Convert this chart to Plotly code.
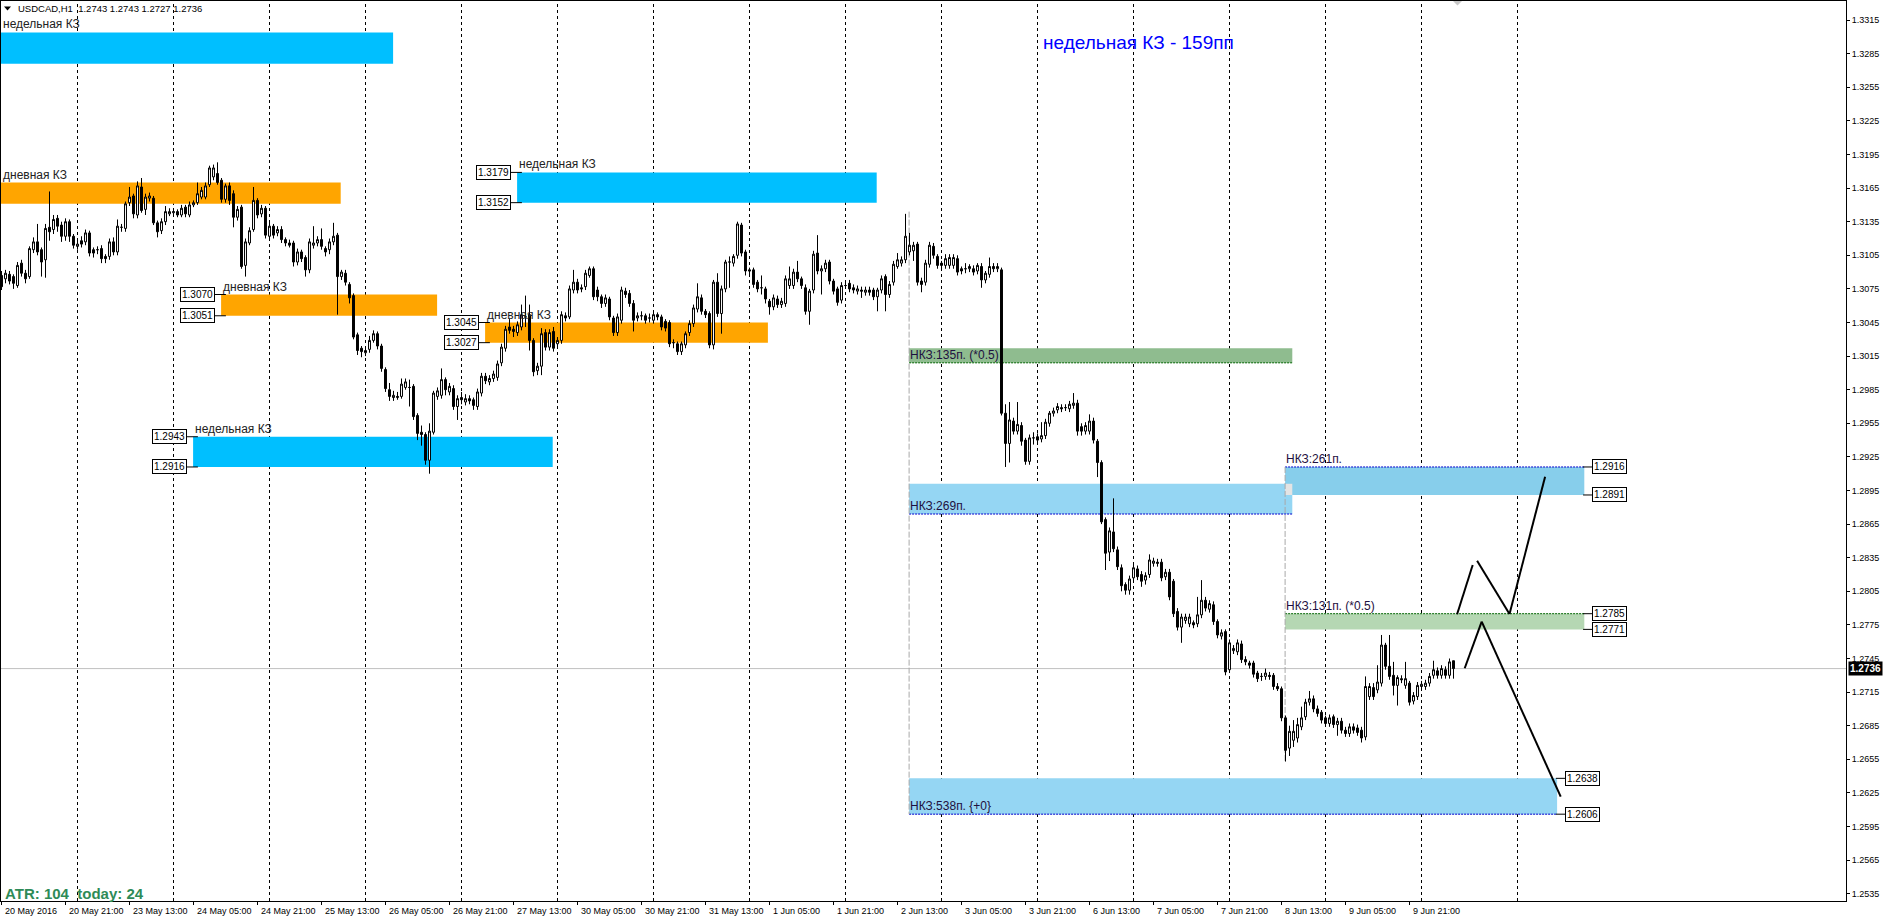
import plotly.graph_objects as go

# ---------------- data (prices in points of 0.0001) ----------------
header_text = "USDCAD,H1  1.2743 1.2743 1.2727 1.2736"

open_pts = [
    13087,13084,13088,13086,13078,13098,13089,13086,13110,13117,
    13110,13101,13130,13128,13138,13132,13122,13135,13122,13113,
    13118,13117,13125,13110,13110,13111,13104,13104,13117,13108,
    13130,13129,13152,13158,13141,13166,13146,13156,13156,13134,
    13127,13135,13142,13143,13144,13141,13148,13141,13150,13152,
    13157,13157,13168,13175,13178,13172,13155,13167,13160,13139,
    13148,13096,13116,13128,13154,13142,13147,13122,13131,13125,
    13128,13119,13116,13116,13099,13108,13103,13092,13114,13116,
    13119,13111,13110,13117,13123,13086,13089,13079,13069,13034,
    13022,13018,13021,13029,13035,13024,13003,12985,12978,12978,
    12979,12987,12987,12988,12962,12947,12945,12922,12947,12979,
    12980,12994,12983,12986,12970,12978,12974,12977,12976,12970,
    12982,12997,12992,12995,12996,13009,13022,13041,13039,13036,
    13041,13050,13052,13029,13002,13006,13036,13023,13037,13026,
    13029,13051,13050,13074,13081,13076,13077,13087,13093,13074,
    13068,13062,13066,13049,13036,13047,13073,13071,13062,13049,
    13051,13051,13049,13047,13052,13050,13046,13045,13027,13026,
    13019,13025,13036,13044,13057,13067,13055,13053,13025,13081,
    13053,13075,13099,13098,13105,13132,13108,13092,13092,13081,
    13076,13075,13064,13059,13066,13061,13062,13078,13078,13090,
    13084,13076,13055,13074,13107,13091,13093,13099,13082,13075,
    13065,13078,13080,13076,13073,13074,13072,13074,13074,13068,
    13074,13086,13070,13081,13095,13098,13101,13108,13109,13115,
    13082,13081,13097,13113,13104,13098,13096,13096,13096,13102,
    13093,13093,13093,13093,13091,13095,13083,13088,13095,13093,
    13092,12964,12937,12957,12948,12953,12940,12921,12942,12943,
    12941,12944,12955,12964,12967,12969,12969,12968,12971,12973,
    12952,12948,12948,12957,12939,12920,12869,12840,12858,12842,
    12826,12811,12806,12817,12825,12820,12815,12820,12830,12831,
    12831,12818,12822,12814,12787,12773,12779,12776,12777,12776,
    12784,12797,12789,12793,12778,12765,12769,12735,12752,12751,
    12758,12744,12741,12741,12732,12729,12729,12730,12730,12720,
    12718,12692,12665,12672,12674,12684,12693,12706,12709,12700,
    12697,12692,12687,12693,12686,12689,12681,12678,12684,12683,
    12681,12675,12711,12719,12717,12723,12757,12738,12730,12721,
    12727,12721,12723,12707,12711,12720,12720,12723,12730,12734,
    12730,12735,12730,12743,
]
high_pts = [
    13091,13092,13091,13088,13099,13101,13092,13113,13121,13133,
    13112,13133,13162,13141,13141,13135,13138,13137,13124,13120,
    13122,13128,13127,13112,13113,13114,13106,13120,13121,13137,
    13133,13153,13166,13160,13171,13174,13160,13161,13158,13136,
    13138,13149,13147,13146,13146,13150,13150,13153,13154,13170,
    13166,13170,13185,13186,13188,13174,13169,13170,13163,13149,
    13150,13120,13130,13166,13156,13150,13149,13134,13133,13131,
    13131,13121,13119,13118,13111,13110,13105,13120,13131,13122,
    13129,13113,13120,13134,13125,13092,13092,13081,13071,13036,
    13024,13023,13033,13038,13037,13026,13005,12991,12984,12983,
    12995,12995,12994,12990,12964,12953,12947,12955,12984,12987,
    13004,12996,12991,12989,12980,12983,12981,12980,12978,12986,
    13000,13000,12998,13002,13011,13026,13042,13048,13042,13046,
    13061,13069,13061,13031,13009,13040,13039,13039,13041,13032,
    13055,13054,13078,13092,13084,13079,13092,13095,13095,13077,
    13070,13070,13068,13051,13053,13077,13076,13074,13065,13054,
    13055,13053,13053,13055,13054,13052,13048,13047,13030,13028,
    13028,13037,13047,13061,13080,13070,13057,13055,13083,13089,
    13078,13101,13104,13106,13135,13134,13110,13094,13094,13083,
    13087,13077,13066,13070,13069,13067,13087,13095,13093,13100,
    13086,13079,13075,13109,13123,13096,13101,13101,13084,13077,
    13081,13082,13083,13079,13078,13077,13077,13077,13076,13076,
    13087,13088,13082,13100,13107,13104,13142,13125,13117,13117,
    13085,13101,13117,13116,13106,13100,13106,13106,13106,13105,
    13095,13098,13097,13096,13098,13098,13091,13103,13098,13098,
    13094,12972,12974,12960,12974,12956,12942,12945,12947,12946,
    12956,12959,12966,12969,12973,12972,12972,12975,12982,12976,
    12955,12956,12963,12960,12941,12922,12871,12862,12888,12845,
    12829,12813,12819,12829,12828,12823,12822,12838,12835,12834,
    12834,12825,12825,12816,12790,12785,12785,12785,12779,12800,
    12815,12800,12797,12796,12780,12771,12771,12762,12757,12762,
    12761,12747,12743,12743,12734,12732,12736,12733,12732,12723,
    12720,12694,12685,12690,12692,12702,12709,12716,12712,12703,
    12699,12694,12695,12695,12692,12692,12684,12687,12687,12686,
    12684,12729,12723,12723,12739,12766,12759,12766,12742,12730,
    12730,12742,12725,12715,12724,12725,12726,12732,12743,12737,
    12739,12738,12745,12743,
]
low_pts = [
    13074,13080,13079,13075,13076,13086,13080,13084,13107,13105,
    13086,13085,13118,13124,13126,13117,13118,13117,13111,13110,
    13112,13114,13104,13103,13106,13098,13098,13101,13105,13105,
    13126,13126,13149,13138,13138,13143,13141,13153,13132,13121,
    13124,13132,13140,13140,13139,13139,13139,13139,13148,13150,
    13155,13155,13166,13172,13168,13152,13152,13150,13130,13136,
    13093,13086,13114,13126,13138,13139,13120,13119,13120,13122,
    13116,13113,13112,13095,13096,13099,13086,13089,13111,13113,
    13110,13104,13106,13114,13052,13083,13078,13062,13030,13016,
    13014,13015,13018,13027,13021,13001,12983,12975,12975,12976,
    12977,12985,12970,12958,12940,12935,12918,12910,12945,12976,
    12977,12980,12980,12967,12958,12972,12971,12972,12967,12967,
    12979,12990,12989,12992,12993,13006,13019,13035,13032,13033,
    13038,13041,13020,12997,12998,12998,13020,13020,13019,13024,
    13026,13046,13048,13071,13071,13072,13074,13085,13065,13064,
    13058,13059,13047,13033,13033,13044,13067,13059,13037,13046,
    13047,13044,13045,13044,13047,13038,13037,13023,13022,13016,
    13016,13022,13033,13041,13054,13052,13049,13022,13021,13050,
    13035,13072,13076,13095,13102,13104,13087,13088,13076,13072,
    13070,13062,13052,13056,13058,13058,13059,13075,13075,13081,
    13075,13052,13043,13071,13088,13070,13090,13079,13070,13060,
    13062,13075,13072,13071,13070,13067,13069,13069,13065,13055,
    13071,13055,13067,13078,13093,13095,13098,13105,13100,13078,
    13072,13078,13094,13102,13093,13093,13093,13093,13093,13087,
    13088,13089,13090,13087,13088,13076,13080,13085,13090,13090,
    12962,12916,12920,12945,12945,12935,12918,12918,12936,12937,
    12938,12941,12952,12961,12964,12965,12966,12965,12968,12944,
    12944,12945,12945,12937,12907,12865,12824,12832,12840,12824,
    12805,12802,12802,12814,12815,12809,12811,12817,12827,12827,
    12814,12815,12797,12782,12770,12759,12776,12773,12772,12773,
    12781,12787,12786,12775,12763,12762,12730,12732,12749,12748,
    12741,12739,12736,12728,12724,12725,12726,12726,12717,12716,
    12689,12653,12658,12666,12670,12681,12690,12703,12697,12693,
    12687,12684,12684,12683,12676,12678,12675,12675,12678,12676,
    12670,12672,12708,12708,12714,12720,12735,12726,12712,12703,
    12723,12718,12703,12704,12708,12717,12717,12720,12727,12727,
    12727,12727,12727,12727,
]
close_pts = [
    13077,13089,13082,13080,13096,13089,13084,13111,13117,13108,
    13099,13129,13126,13137,13131,13122,13135,13122,13114,13115,
    13115,13125,13107,13107,13110,13102,13102,13117,13108,13131,
    13130,13151,13157,13142,13167,13145,13157,13158,13134,13126,
    13135,13144,13144,13144,13141,13147,13142,13150,13152,13160,
    13163,13167,13183,13183,13170,13155,13167,13154,13139,13146,
    13095,13117,13127,13154,13141,13147,13123,13131,13123,13128,
    13119,13116,13114,13099,13108,13102,13092,13117,13116,13119,
    13113,13108,13117,13122,13086,13090,13081,13067,13032,13020,
    13019,13020,13029,13035,13024,13004,12986,12979,12980,12979,
    12990,12992,12987,12961,12946,12945,12922,12948,12982,12984,
    12994,12985,12988,12970,12977,12976,12977,12975,12971,12983,
    12997,12993,12995,12999,13008,13023,13039,13038,13037,13043,
    13052,13050,13029,13001,13006,13035,13023,13036,13022,13029,
    13052,13049,13075,13081,13074,13075,13089,13093,13068,13068,
    13062,13067,13050,13036,13050,13074,13070,13062,13047,13051,
    13051,13047,13049,13052,13050,13041,13040,13026,13027,13019,
    13026,13035,13044,13058,13068,13055,13052,13025,13081,13053,
    13075,13099,13099,13104,13133,13107,13091,13091,13079,13075,
    13076,13066,13059,13067,13061,13064,13084,13084,13090,13084,
    13078,13055,13073,13106,13091,13093,13098,13082,13073,13063,
    13078,13078,13075,13074,13075,13073,13074,13072,13068,13074,
    13084,13070,13079,13097,13101,13101,13122,13114,13114,13081,
    13079,13098,13114,13105,13096,13096,13102,13103,13103,13090,
    13091,13093,13095,13090,13096,13083,13089,13095,13093,13095,
    12964,12937,12958,12948,12954,12939,12921,12942,12942,12940,
    12944,12956,12964,12966,12970,12968,12969,12972,12973,12948,
    12948,12953,12957,12940,12920,12867,12839,12859,12843,12827,
    12810,12806,12816,12826,12818,12814,12819,12833,12832,12830,
    12817,12822,12800,12785,12773,12782,12782,12782,12775,12784,
    12797,12790,12794,12778,12766,12768,12733,12759,12754,12759,
    12744,12742,12739,12731,12727,12729,12732,12729,12720,12718,
    12692,12663,12680,12680,12686,12692,12706,12709,12700,12696,
    12690,12687,12692,12686,12689,12681,12678,12684,12681,12679,
    12674,12720,12720,12711,12724,12757,12738,12729,12721,12728,
    12726,12727,12706,12712,12721,12722,12723,12729,12735,12730,
    12736,12730,12742,12736,
]

# time axis (bar index; first bar = 20 May 2016 05:00, H1, weekends skipped)
time_labels = ["20 May 2016", "20 May 21:00", "23 May 13:00", "24 May 05:00", "24 May 21:00",
               "25 May 13:00", "26 May 05:00", "26 May 21:00", "27 May 13:00", "30 May 05:00",
               "30 May 21:00", "31 May 13:00", "1 Jun 05:00", "1 Jun 21:00", "2 Jun 13:00",
               "3 Jun 05:00", "3 Jun 21:00", "6 Jun 13:00", "7 Jun 05:00", "7 Jun 21:00",
               "8 Jun 13:00", "9 Jun 05:00", "9 Jun 21:00"]
time_label_bars = [0, 16, 32, 48, 64, 80, 96, 112, 128, 144, 160, 176, 192, 208, 224,
                   240, 256, 272, 288, 304, 320, 336, 352]
day_start_bars = [19, 43, 67, 91, 115, 139, 163, 187, 211, 235, 259, 283, 307, 331, 355, 379]

price_ticks = [1.2535, 1.2565, 1.2595, 1.2625, 1.2655, 1.2685, 1.2715, 1.2745, 1.2775,
               1.2805, 1.2835, 1.2865, 1.2895, 1.2925, 1.2955, 1.2985, 1.3015, 1.3045,
               1.3075, 1.3105, 1.3135, 1.3165, 1.3195, 1.3225, 1.3255, 1.3285, 1.3315]
last_price = 1.2736

# support / resistance zones ("КЗ")
kz_text = ["недельная КЗ", "дневная КЗ", "дневная КЗ", "дневная КЗ", "недельная КЗ", "недельная КЗ"]
kz_start = [-1.0, -1.0, 54.9, 120.9, 47.9, 128.9]
kz_end = [97.9, 84.8, 108.9, 191.6, 137.8, 218.8]
kz_hi = [1.3304, 1.3170, 1.3070, 1.3045, 1.2943, 1.3179]
kz_lo = [1.3276, 1.3151, 1.3051, 1.3027, 1.2916, 1.3152]
kz_weekly = [True, False, False, False, True, True]
kz_boxed = [False, False, True, True, True, True]

# indicator zones ("НКЗ")
nkz_text = ["НКЗ:135п. (*0.5)", "НКЗ:269п.", "НКЗ:261п.", "НКЗ:131п. (*0.5)", "НКЗ:538п. {+0}"]
nkz_start = [226.9, 226.9, 320.9, 320.9, 226.9]
nkz_end = [322.7, 322.7, 395.7, 395.7, 388.9]
nkz_hi = [1.3022, 1.2901, 1.2916, 1.2785, 1.2638]
nkz_lo = [1.3009, 1.2874, 1.2891, 1.2771, 1.2606]
nkz_line_top = [False, False, True, True, False]
nkz_boxed = [False, False, True, True, True]

# projected path (trend lines)
proj_x = [[363.9, 367.8], [368.9, 377.0], [377.0, 385.9], [365.8, 370.05], [370.05, 389.8]]
proj_y = [[1.27845, 1.28285], [1.28323, 1.27847], [1.27847, 1.29073], [1.27363, 1.27779], [1.27779, 1.26216]]

atr_text = "ATR: 104&nbsp;&nbsp;today: 24"
title_text = "недельная КЗ - 159пп"

# ---------------- figure ----------------
W, H = 1888, 922
ML, MR, MT, MB = 1, 42, 1, 21
X0, X1 = -0.125, 461.125
Y0, Y1 = 1.252848, 1.333205
FONT = "Liberation Sans, Arial, sans-serif"


def px_x(px):
    return (px - ML) / (W - ML - MR)


def px_y(py):
    return (H - MB - py) / (H - MT - MB)


opens = [v / 10000 for v in open_pts]
highs = [v / 10000 for v in high_pts]
lows = [v / 10000 for v in low_pts]
closes = [v / 10000 for v in close_pts]
bars = list(range(len(opens)))

fig = go.Figure()
fig.add_trace(go.Candlestick(
    x=bars, open=opens, high=highs, low=lows, close=closes,
    increasing=dict(line=dict(color="black", width=1), fillcolor="white"),
    decreasing=dict(line=dict(color="black", width=1), fillcolor="black"),
    whiskerwidth=0, hoverinfo="skip", showlegend=False,
))

shapes = []
annotations = []

# current price line
shapes.append(dict(type="line", xref="x", yref="y", x0=X0, x1=X1, y0=last_price, y1=last_price,
                   line=dict(color="#C0C0C0", width=1), layer="below"))

# KZ rectangles
for i in range(len(kz_text)):
    shapes.append(dict(type="rect", xref="x", yref="y", x0=kz_start[i], x1=kz_end[i],
                       y0=kz_lo[i], y1=kz_hi[i], line=dict(width=0),
                       fillcolor="#00BFFF" if kz_weekly[i] else "#FFA500", layer="below"))

# NKZ rectangles
nkz_fill = ["#8FBC8F", "#95D6F3", "#87CEEB", "#B5D7B3", "#95D6F3"]
nkz_line = ["#006400", "#0000CD", "#0000CD", "#006400", "#0000CD"]
for i in range(len(nkz_text)):
    shapes.append(dict(type="rect", xref="x", yref="y", x0=nkz_start[i], x1=nkz_end[i],
                       y0=nkz_lo[i], y1=nkz_hi[i], line=dict(width=0),
                       fillcolor=nkz_fill[i], layer="below"))
# overlap artefact
shapes.append(dict(type="rect", xref="x", yref="y", x0=nkz_start[2], x1=nkz_end[1],
                   y0=nkz_lo[2], y1=nkz_hi[1], line=dict(width=0), fillcolor="#E4E4E4", layer="below"))
for i in range(len(nkz_text)):
    yl = nkz_hi[i] if nkz_line_top[i] else nkz_lo[i]
    shapes.append(dict(type="line", xref="x", yref="y", x0=nkz_start[i], x1=nkz_end[i], y0=yl, y1=yl,
                       line=dict(color=nkz_line[i], width=1, dash="2px,1px"), layer="below"))

# day separators
for b in day_start_bars:
    shapes.append(dict(type="line", xref="x", yref="paper", x0=b, x1=b, y0=0, y1=1,
                       line=dict(color="black", width=1, dash="3px,3px"), layer="below"))

# gray dashed verticals of the indicator
shapes.append(dict(type="line", xref="x", yref="y", x0=226.9, x1=226.9, y0=1.3144, y1=1.2606,
                   line=dict(color="#A8A8A8", width=1, dash="6px,2px"), layer="below"))
shapes.append(dict(type="line", xref="x", yref="y", x0=320.9, x1=320.9, y0=1.2916, y1=1.2653,
                   line=dict(color="#A8A8A8", width=1, dash="6px,2px"), layer="below"))

# projections
for xs, ys in zip(proj_x, proj_y):
    shapes.append(dict(type="line", xref="x", yref="y", x0=xs[0], x1=xs[1], y0=ys[0], y1=ys[1],
                       line=dict(color="black", width=2), layer="above"))

# header triangle & chart shift marker
shapes.append(dict(type="path", xref="paper", yref="paper",
                   path=f"M {px_x(4)},{px_y(6.5)} L {px_x(11)},{px_y(6.5)} L {px_x(7.5)},{px_y(10.5)} Z",
                   fillcolor="black", line=dict(width=0)))
shapes.append(dict(type="path", xref="paper", yref="paper",
                   path=f"M {px_x(1453)},{px_y(1)} L {px_x(1462)},{px_y(1)} L {px_x(1457.5)},{px_y(5.5)} Z",
                   fillcolor="#C8C8C8", line=dict(width=0)))


def price_box(xpos, price, anchor):
    annotations.append(dict(xref="x", yref="y", x=xpos, y=price, text=f"{price:.4f}",
                            showarrow=False, xanchor=anchor, yanchor="middle",
                            font=dict(family=FONT, size=10, color="black"),
                            bgcolor="white", bordercolor="black", borderwidth=1, borderpad=1))


def connector(xa, xb, price):
    shapes.append(dict(type="line", xref="x", yref="y", x0=xa, x1=xb, y0=price, y1=price,
                       line=dict(color="black", width=1), layer="above"))


# KZ labels & boxes
for i in range(len(kz_text)):
    lx = max(kz_start[i], 0.0) + 0.1
    annotations.append(dict(xref="x", yref="y", x=lx, y=kz_hi[i], text=kz_text[i], showarrow=False,
                            xanchor="left", yanchor="bottom", borderpad=0,
                            font=dict(family=FONT, size=12, color="#222222")))
    if kz_boxed[i]:
        for p in (kz_hi[i], kz_lo[i]):
            bx = kz_start[i] - 1.6
            price_box(bx, p, "right")
            connector(bx, kz_start[i] + 1.2, p)

# NKZ labels & boxes
for i in range(len(nkz_text)):
    yl = nkz_hi[i] if nkz_line_top[i] else nkz_lo[i]
    annotations.append(dict(xref="x", yref="y", x=nkz_start[i], y=yl, text=nkz_text[i], showarrow=False,
                            xanchor="left", yanchor="bottom", borderpad=0,
                            font=dict(family=FONT, size=12, color="#1E1040")))
    if nkz_boxed[i]:
        for p in (nkz_hi[i], nkz_lo[i]):
            bx = nkz_end[i] + 2.0
            price_box(bx, p, "left")
            connector(nkz_end[i] - 0.3, bx, p)

# time labels & ticks
for lbl, b in zip(time_labels, time_label_bars):
    annotations.append(dict(xref="x", yref="paper", x=b, y=px_y(911), text=lbl, showarrow=False,
                            xanchor="left", yanchor="middle", xshift=1,
                            font=dict(family=FONT, size=9, color="black")))
    shapes.append(dict(type="line", xref="x", yref="paper", x0=b, x1=b, y0=0, y1=px_y(905),
                       line=dict(color="black", width=1)))

# header, title, ATR, last price
annotations.append(dict(xref="paper", yref="paper", x=px_x(16), y=px_y(8.5), text=header_text,
                        showarrow=False, xanchor="left", yanchor="middle",
                        font=dict(family=FONT, size=9.5, color="black")))
annotations.append(dict(xref="paper", yref="paper", x=px_x(1138.5), y=px_y(43), text=title_text,
                        showarrow=False, xanchor="center", yanchor="middle",
                        font=dict(family=FONT, size=19, color="#0000FF")))
annotations.append(dict(xref="paper", yref="paper", x=px_x(3), y=px_y(893), text=f"<b>{atr_text}</b>",
                        showarrow=False, xanchor="left", yanchor="middle",
                        font=dict(family=FONT, size=15, color="#2E8B57")))
annotations.append(dict(xref="paper", yref="y", x=px_x(1848), y=last_price, text=f"<b>{last_price:.4f}</b>",
                        showarrow=False, xanchor="left", yanchor="middle", bgcolor="black", borderpad=1,
                        font=dict(family=FONT, size=10, color="white")))

fig.update_layout(
    width=W, height=H, margin=dict(l=ML, r=MR, t=MT, b=MB, pad=0),
    paper_bgcolor="white", plot_bgcolor="white", showlegend=False,
    shapes=shapes, annotations=annotations, hovermode=False,
    xaxis=dict(range=[X0, X1], showgrid=False, zeroline=False, showticklabels=False, ticks="",
               showline=True, linecolor="black", linewidth=1, mirror=True, rangeslider=dict(visible=False),
               fixedrange=True),
    yaxis=dict(range=[Y0, Y1], side="right", showgrid=False, zeroline=False,
               tickvals=price_ticks, ticktext=[f"{v:.4f}" for v in price_ticks],
               ticks="outside", ticklen=3, tickcolor="black", tickwidth=1,
               tickfont=dict(family=FONT, size=9, color="black"),
               showline=True, linecolor="black", linewidth=1, mirror=True, fixedrange=True),
)

fig.write_html("out.html", config={"displayModeBar": False},
               post_script="document.body.style.margin='0px';document.body.style.overflow='hidden';")
